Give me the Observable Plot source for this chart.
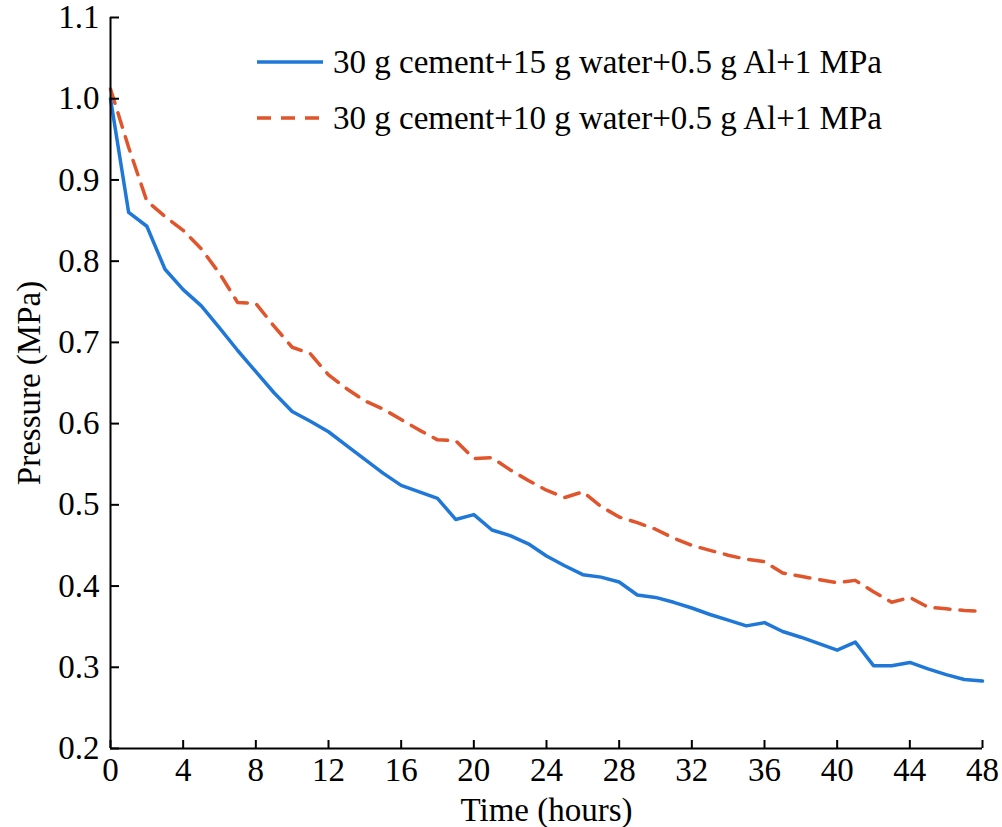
<!DOCTYPE html>
<html>
<head>
<meta charset="utf-8">
<script src="https://cdn.jsdelivr.net/npm/d3@7"></script>
<script src="https://cdn.jsdelivr.net/npm/@observablehq/plot@0.6"></script>
<style>
  body { margin: 0; background: white; }
  #wrap { position: relative; width: 1002px; height: 827px; }
  #legend { position: absolute; left: 256px; top: 34px; font-family: "Liberation Serif", serif; font-size: 33px; color: #000; }
  #legend .row { display: flex; align-items: center; height: 56px; }
  #legend svg { margin-right: 9px; }
</style>
</head>
<body>
<div id="wrap"></div>
<script>
const hours = [0,1,2,3,4,5,6,7,8,9,10,11,12,13,14,15,16,17,18,19,20,21,22,23,24,25,26,27,28,29,30,31,32,33,34,35,36,37,38,39,40,41,42,43,44,45,46,47,48];
const seriesNames = ["30 g cement+15 g water+0.5 g Al+1 MPa", "30 g cement+10 g water+0.5 g Al+1 MPa"];
const water15 = [1.0,0.86,0.843,0.79,0.765,0.745,0.718,0.69,0.664,0.638,0.615,0.603,0.59,0.573,0.556,0.539,0.524,0.516,0.508,0.482,0.488,0.469,0.462,0.452,0.437,0.425,0.414,0.411,0.405,0.389,0.386,0.38,0.373,0.365,0.358,0.351,0.355,0.344,0.337,0.329,0.321,0.331,0.302,0.302,0.306,0.298,0.291,0.285,0.283];
const water10 = [1.012,0.94,0.874,0.855,0.838,0.815,0.785,0.749,0.748,0.72,0.694,0.686,0.66,0.643,0.628,0.618,0.605,0.592,0.58,0.579,0.557,0.558,0.543,0.53,0.518,0.509,0.516,0.498,0.485,0.478,0.47,0.459,0.45,0.444,0.438,0.433,0.43,0.416,0.412,0.408,0.404,0.407,0.393,0.38,0.386,0.374,0.372,0.37,0.369];
const xTicks = [0,4,8,12,16,20,24,28,32,36,40,44,48];
const yTicks = [0.2,0.3,0.4,0.5,0.6,0.7,0.8,0.9,1.0,1.1];
const colors = ["#1F78D8", "#E0552B"];

const d15 = hours.map((h, i) => ({h, p: water15[i]}));
const d10 = hours.map((h, i) => ({h, p: water10[i]}));

const chart = Plot.plot({
  width: 1002,
  height: 827,
  marginLeft: 110,
  marginRight: 20,
  marginTop: 17,
  marginBottom: 79,
  x: {domain: [0, 48]},
  y: {domain: [0.2, 1.1]},
  style: {fontFamily: "Liberation Serif", fontSize: "33px", color: "black", background: "white"},
  marks: [
    Plot.line(d10, {x: "h", y: "p", stroke: colors[1], strokeWidth: 3.5, strokeDasharray: "15,10"}),
    Plot.line(d15, {x: "h", y: "p", stroke: colors[0], strokeWidth: 3.5}),
    Plot.axisY({ticks: yTicks, tickSize: -9, tickPadding: 20, strokeWidth: 2, tickFormat: d3.format(".1f"), fontSize: 33, label: "Pressure (MPa)", labelAnchor: "center", labelArrow: "none", labelOffset: 94}),
    Plot.axisX({ticks: xTicks, tickSize: -8, tickPadding: 17, strokeWidth: 2, tickFormat: d => d, fontSize: 33, label: "Time (hours)", labelAnchor: "center", labelArrow: "none", labelOffset: 72}),
    Plot.ruleX([0], {stroke: "black", strokeWidth: 2}),
    Plot.ruleY([0.2], {stroke: "black", strokeWidth: 2})
  ]
});
document.getElementById("wrap").appendChild(chart);

const legend = document.createElement("div");
legend.id = "legend";
seriesNames.forEach((name, i) => {
  const row = document.createElement("div");
  row.className = "row";
  row.innerHTML = `<svg width="68" height="10"><line x1="1" y1="5" x2="67" y2="5" stroke="${colors[i]}" stroke-width="3.5" ${i === 1 ? 'stroke-dasharray="14,10"' : ''}/></svg><span>${name}</span>`;
  legend.appendChild(row);
});
document.getElementById("wrap").appendChild(legend);
</script>
</body>
</html>
